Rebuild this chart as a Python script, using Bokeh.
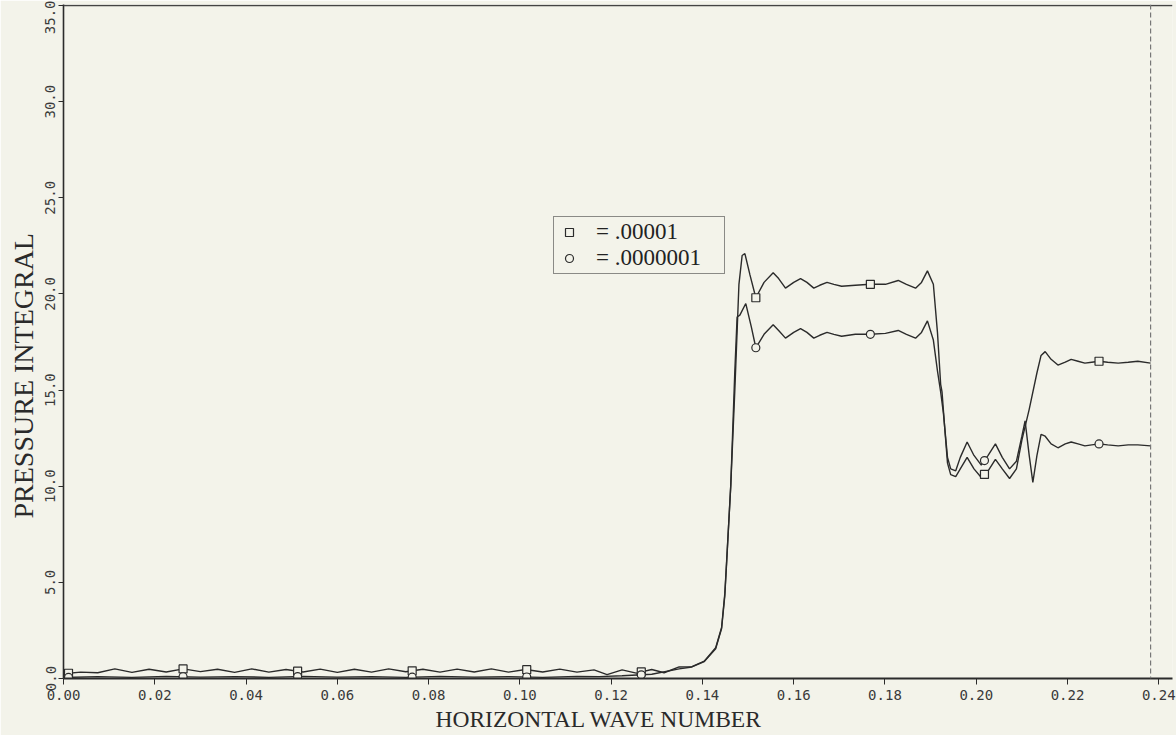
import numpy as np
from bokeh.plotting import figure
from bokeh.models import (Range1d, FixedTicker, NumeralTickFormatter, Legend, LegendItem,
                          Span, Title)
from bokeh.embed import file_html
from bokeh.resources import INLINE

# ---- data ----
x_ticks = [0.00, 0.02, 0.04, 0.06, 0.08, 0.10, 0.12, 0.14, 0.16, 0.18, 0.20, 0.22, 0.24]
y_ticks = [0.0, 5.0, 10.0, 15.0, 20.0, 25.0, 30.0, 35.0]
x_title = "HORIZONTAL WAVE NUMBER"
y_title = "PRESSURE INTEGRAL"
x_frame_end = 0.2382       # right border line of the original frame
y_frame_top = 35.0

# series "= .00001" (square markers)
sq_x = [0.0000, 0.00375, 0.0075, 0.01125, 0.0150, 0.01875, 0.0225, 0.02625, 0.0300, 0.03375,
        0.0375, 0.04125, 0.0450, 0.04875, 0.0525, 0.05625, 0.0600, 0.06375, 0.0675, 0.07125,
        0.0750, 0.07875, 0.0825, 0.08625, 0.0900, 0.09375, 0.0975, 0.10125, 0.1050, 0.10875,
        0.1125, 0.11625, 0.1191, 0.1224, 0.1255, 0.1289, 0.1316, 0.1349, 0.1377, 0.1404,
        0.1429, 0.1442, 0.1449, 0.1453, 0.1462, 0.1471, 0.1480, 0.1487, 0.1493, 0.1504,
        0.1517, 0.1535, 0.1555, 0.1567, 0.1582, 0.1600, 0.1615, 0.1629, 0.1644, 0.1657,
        0.1673, 0.1688, 0.1705, 0.1735, 0.1768, 0.1801, 0.1829, 0.1847, 0.1867, 0.1880,
        0.1893, 0.1906, 0.1915, 0.1922, 0.1925, 0.1931, 0.1937, 0.1944, 0.1955, 0.1965,
        0.1980, 0.1995, 0.2011, 0.2026, 0.2042, 0.2057, 0.2073, 0.2088, 0.2100, 0.2116,
        0.2133, 0.2142, 0.2151, 0.2164, 0.2179, 0.2195, 0.2208, 0.2223, 0.2238, 0.2253,
        0.2269, 0.2288, 0.2311, 0.2333, 0.2354, 0.2382]
sq_y = [0.25, 0.33, 0.30, 0.50, 0.32, 0.48, 0.34, 0.50, 0.36, 0.48,
        0.32, 0.50, 0.33, 0.47, 0.34, 0.49, 0.32, 0.48, 0.33, 0.50,
        0.35, 0.48, 0.33, 0.49, 0.34, 0.50, 0.33, 0.47, 0.34, 0.49,
        0.33, 0.45, 0.20, 0.45, 0.28, 0.47, 0.30, 0.60, 0.62, 0.90,
        1.60, 2.65, 4.40, 6.10, 10.0, 15.0, 20.5, 22.0, 22.1, 21.0,
        19.8, 20.6, 21.1, 20.8, 20.3, 20.6, 20.8, 20.6, 20.3, 20.45,
        20.6, 20.5, 20.4, 20.45, 20.5, 20.5, 20.7, 20.5, 20.3, 20.6,
        21.2, 20.5, 18.0, 15.3, 14.9, 13.0, 11.2, 10.6, 10.5, 10.9,
        11.5, 10.9, 10.45, 10.8, 11.4, 10.9, 10.4, 10.9, 12.4, 14.0,
        15.9, 16.8, 17.0, 16.6, 16.3, 16.45, 16.6, 16.5, 16.4, 16.45,
        16.5, 16.45, 16.4, 16.45, 16.5, 16.4]

# series "= .0000001" (circle markers)
ci_x = [0.0000, 0.0075, 0.0150, 0.0225, 0.0300, 0.0375, 0.0450, 0.0525, 0.0600, 0.0675,
        0.0750, 0.0825, 0.0900, 0.0975, 0.1050, 0.1125, 0.1174, 0.1224, 0.1289, 0.1349,
        0.1377, 0.1404, 0.1429, 0.1442, 0.1449, 0.1453, 0.1462, 0.1471, 0.1476, 0.1482,
        0.1495, 0.1507, 0.1517, 0.1535, 0.1555, 0.1567, 0.1582, 0.1600, 0.1615, 0.1629,
        0.1644, 0.1657, 0.1673, 0.1688, 0.1705, 0.1735, 0.1768, 0.1801, 0.1829, 0.1847,
        0.1867, 0.1880, 0.1893, 0.1906, 0.1915, 0.1922, 0.1928, 0.1937, 0.1944, 0.1955,
        0.1965, 0.1980, 0.1995, 0.2011, 0.2026, 0.2042, 0.2057, 0.2073, 0.2088, 0.2100,
        0.2107, 0.2116, 0.2124, 0.2133, 0.2142, 0.2151, 0.2164, 0.2179, 0.2195, 0.2208,
        0.2223, 0.2238, 0.2253, 0.2269, 0.2288, 0.2311, 0.2333, 0.2354, 0.2382]
ci_y = [0.05, 0.10, 0.06, 0.11, 0.07, 0.10, 0.06, 0.11, 0.07, 0.10,
        0.06, 0.11, 0.07, 0.10, 0.06, 0.11, 0.10, 0.14, 0.22, 0.50,
        0.60, 0.88, 1.55, 2.60, 4.30, 6.00, 10.0, 16.0, 18.8, 18.9,
        19.5, 18.3, 17.2, 17.9, 18.4, 18.1, 17.7, 18.0, 18.2, 18.0,
        17.7, 17.85, 18.0, 17.9, 17.8, 17.9, 17.9, 17.95, 18.1, 17.9,
        17.7, 18.0, 18.6, 17.6, 16.0, 14.9, 13.8, 11.5, 10.9, 10.8,
        11.5, 12.3, 11.6, 11.1, 11.6, 12.2, 11.5, 10.9, 11.3, 12.6,
        13.4, 11.6, 10.2, 11.6, 12.7, 12.6, 12.2, 12.0, 12.2, 12.3,
        12.2, 12.1, 12.15, 12.2, 12.15, 12.1, 12.15, 12.15, 12.1]

marker_x = [0.0011, 0.0262, 0.0513, 0.0764, 0.1015, 0.1266, 0.1517, 0.1768, 0.2018, 0.2269]
labels = ["= .00001", "= .0000001"]

# ---- styling ----
BG = "#f3f3ea"
INK = "#2b2b2b"
TICK_FONT = "DejaVu Sans Mono"
TITLE_FONT = "Liberation Serif"

p = figure(frame_width=1109, frame_height=674, output_backend="svg", toolbar_location=None,
           x_range=Range1d(0, 0.2430), y_range=Range1d(0, 35.052),
           min_border_left=63, min_border_right=4, min_border_top=4, min_border_bottom=57,
           background_fill_color=BG, border_fill_color=BG)
p.grid.visible = False
p.outline_line_color = None

p.xaxis.ticker = FixedTicker(ticks=x_ticks)
p.yaxis.ticker = FixedTicker(ticks=y_ticks)
p.xaxis.formatter = NumeralTickFormatter(format="0.00")
p.yaxis.formatter = NumeralTickFormatter(format="0.0")
for ax in (p.xaxis[0], p.yaxis[0]):
    ax.major_tick_in = 0
    ax.minor_tick_out = 0
    ax.minor_tick_in = 0
    ax.axis_line_color = INK
    ax.major_tick_line_color = INK
    ax.major_label_text_font = TICK_FONT
    ax.major_label_text_font_size = "14px"
    ax.major_label_text_color = "#3a3a3a"
p.xaxis.major_tick_out = 6
p.yaxis.major_tick_out = 5
p.xaxis.axis_line_width = 2.2
p.yaxis.axis_line_width = 1.6
p.xaxis.major_label_standoff = 5
p.yaxis.major_label_standoff = 3
p.yaxis.major_label_orientation = "vertical"

# axis titles, placed as in the original (not centred on the frame)
p.add_layout(Title(text=x_title, align="left", offset=372, standoff=2,
                   text_font=TITLE_FONT, text_font_size="23.5px", text_font_style="normal",
                   text_color="#2a2a2a"), "below")
p.add_layout(Title(text=y_title, align="left", offset=160, standoff=7,
                   text_font=TITLE_FONT, text_font_size="28px", text_font_style="normal",
                   text_color="#2a2a2a"), "left")

# frame: top line and dashed right border
p.add_layout(Span(location=y_frame_top, dimension="width", line_color="#444444",
                  line_width=1.5))
p.add_layout(Span(location=x_frame_end, dimension="height", line_color="#777777",
                  line_width=1.2, line_dash="5 3"))

p.line(sq_x, sq_y, line_color=INK, line_width=1.4)
p.line(ci_x, ci_y, line_color=INK, line_width=1.4)

sq_my = np.interp(marker_x, sq_x, sq_y)
ci_my = np.interp(marker_x, ci_x, ci_y)
r_sq = p.scatter(marker_x, sq_my, marker="square", size=8, fill_color=BG,
                 line_color=INK, line_width=1.2)
r_ci = p.scatter(marker_x, ci_my, marker="circle", size=8, fill_color=BG,
                 line_color=INK, line_width=1.2)

legend = Legend(items=[LegendItem(label=labels[0], renderers=[r_sq]),
                       LegendItem(label=labels[1], renderers=[r_ci])],
                location=(490, 404))
legend.border_line_color = "#222222"
legend.border_line_width = 1.5
legend.background_fill_color = BG
legend.background_fill_alpha = 1.0
legend.label_text_font = TITLE_FONT
legend.label_text_font_size = "23px"
legend.label_text_color = "#222222"
legend.padding = 2
legend.spacing = 0
legend.margin = 0
legend.glyph_width = 26
legend.glyph_height = 20
legend.label_height = 23
legend.label_width = 126
legend.label_standoff = 14
p.add_layout(legend, "center")

open("out.html", "w").write(file_html(p, INLINE))
